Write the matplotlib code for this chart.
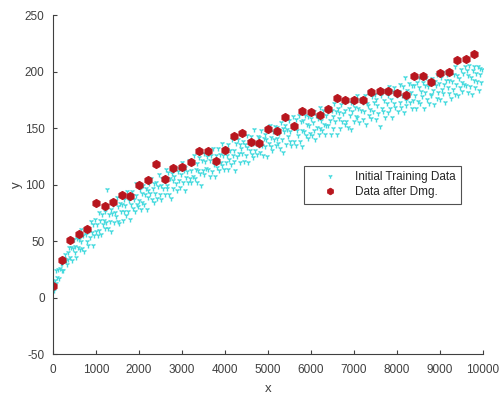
import numpy as np
import matplotlib
matplotlib.use("Agg")
import matplotlib.pyplot as plt

plt.rcParams["font.family"] = ["Liberation Sans", "DejaVu Sans"]
plt.rcParams["axes.unicode_minus"] = False

# Initial training data: one sample every 20 units of x
train_x = np.arange(0, 10000, 20)
train_y = [
    14, 7, 16, 13, 24, 18, 25, 17, 26, 31, 24, 31, 24, 35, 39, 33, 30, 40, 34, 45,
    36, 45, 33, 44, 52, 40, 46, 36, 53, 45, 52, 43, 61, 50, 44, 55, 41, 59, 56, 50,
    62, 47, 60, 54, 68, 58, 47, 65, 55, 70, 59, 65, 55, 76, 60, 69, 56, 74, 65, 69,
    62, 77, 67, 96, 62, 74, 68, 78, 59, 75, 83, 67, 76, 72, 89, 68, 81, 66, 84, 77,
    83, 69, 87, 77, 82, 73, 94, 77, 86, 70, 90, 83, 94, 79, 87, 77, 91, 101, 83, 81,
    86, 96, 78, 93, 85, 100, 83, 92, 97, 78, 95, 89, 101, 93, 106, 87, 97, 85, 101, 93,
    102, 88, 99, 109, 92, 100, 87, 106, 97, 104, 92, 114, 100, 97, 111, 92, 106, 88, 110, 104,
    97, 108, 115, 101, 95, 112, 104, 115, 98, 109, 120, 102, 113, 95, 116, 107, 112, 102, 122, 106,
    113, 102, 120, 108, 126, 106, 114, 102, 119, 113, 124, 110, 100, 122, 113, 128, 109, 121, 115, 125,
    114, 128, 108, 122, 126, 112, 132, 118, 108, 126, 122, 116, 132, 113, 127, 120, 137, 117, 126, 114,
    132, 120, 126, 114, 136, 123, 131, 118, 140, 126, 121, 131, 113, 137, 125, 140, 128, 136, 120, 132,
    128, 139, 121, 136, 126, 144, 133, 120, 139, 131, 143, 127, 137, 124, 149, 131, 137, 127, 143, 135,
    142, 129, 148, 135, 126, 141, 145, 134, 140, 125, 148, 137, 153, 134, 142, 131, 147, 140, 152, 135,
    141, 151, 137, 146, 132, 155, 140, 150, 129, 147, 153, 136, 149, 143, 157, 139, 147, 135, 152, 161,
    139, 152, 135, 158, 148, 144, 162, 139, 156, 148, 134, 157, 147, 162, 144, 154, 161, 141, 153, 146,
    159, 144, 155, 165, 148, 140, 162, 151, 159, 145, 169, 150, 157, 148, 166, 154, 145, 162, 153, 166,
    153, 169, 157, 145, 166, 161, 150, 172, 156, 165, 145, 168, 159, 164, 150, 171, 156, 163, 176, 154,
    166, 156, 175, 151, 168, 162, 173, 149, 165, 172, 156, 169, 161, 179, 160, 168, 155, 175, 166, 177,
    158, 173, 165, 179, 154, 172, 170, 162, 182, 167, 159, 178, 165, 173, 180, 158, 176, 170, 163, 184,
    152, 179, 168, 184, 165, 175, 160, 182, 172, 179, 164, 187, 168, 176, 160, 183, 172, 186, 169, 180,
    179, 165, 183, 173, 189, 169, 179, 187, 164, 195, 175, 170, 184, 178, 190, 173, 182, 168, 188, 175,
    188, 179, 168, 191, 174, 186, 195, 172, 183, 178, 191, 168, 188, 182, 195, 176, 187, 172, 193, 180,
    179, 194, 184, 171, 192, 188, 177, 198, 182, 190, 176, 195, 185, 200, 181, 189, 173, 193, 198, 186,
    193, 181, 200, 177, 192, 185, 198, 180, 205, 189, 197, 179, 194, 186, 202, 191, 183, 199, 189, 205,
    188, 201, 182, 197, 206, 187, 195, 180, 201, 193, 205, 186, 199, 192, 205, 184, 198, 203, 191, 202,
]

# Data after damage: one sample every 200 units of x
dmg_x = np.arange(0, 10000, 200)
dmg_y = [
    10, 33.5, 51, 56, 61, 84, 81, 85, 91, 90,
    99.5, 104, 118.5, 105, 115, 116, 120, 130, 130, 121,
    131, 143, 146, 138, 137, 149, 147, 159.5, 152, 165,
    164, 162, 167, 176.5, 175, 174.5, 174.5, 182, 183, 183,
    181, 179, 196, 196, 191, 199, 200, 210, 211.5, 215.5,
]

fig = plt.figure(figsize=(5.0, 3.97), dpi=100)
ax = fig.add_axes([0.106, 0.108, 0.86, 0.854])

ax.plot(train_x, train_y, linestyle="none", marker="1", markersize=4,
        markeredgewidth=1.0, color="#45DADE", label="Initial Training Data")
ax.plot(dmg_x, dmg_y, linestyle="none", marker="h", markersize=6,
        markeredgewidth=0.6, color="#B8161E", markeredgecolor="#B8161E",
        label="Data after Dmg.")

ax.set_xlim(0, 10000)
ax.set_ylim(-50, 250)
ax.set_xticks(np.arange(0, 10001, 1000))
ax.set_yticks(np.arange(-50, 251, 50))

gray = "#404040"
for side in ("top", "right"):
    ax.spines[side].set_visible(False)
for side in ("left", "bottom"):
    ax.spines[side].set_color(gray)
    ax.spines[side].set_linewidth(0.8)
ax.tick_params(direction="in", length=3, width=0.8, colors=gray,
               labelsize=8.5)
ax.tick_params(axis="x", pad=7)
ax.tick_params(axis="y", pad=6)

ax.set_xlabel("x", fontsize=9.5, color=gray, labelpad=5)
ax.set_ylabel("y", fontsize=9.5, color=gray, labelpad=1)

leg = ax.legend(loc="upper left", bbox_to_anchor=(0.584, 0.555),
                borderaxespad=0, fontsize=8.5, fancybox=False,
                handlelength=3.5, handletextpad=0.4, borderpad=0.45,
                labelspacing=0.25, markerscale=0.8)
leg.get_frame().set_edgecolor("#262626")
leg.get_frame().set_linewidth(0.8)
for txt in leg.get_texts():
    txt.set_color("#262626")

fig.savefig("out.png", dpi=100)
